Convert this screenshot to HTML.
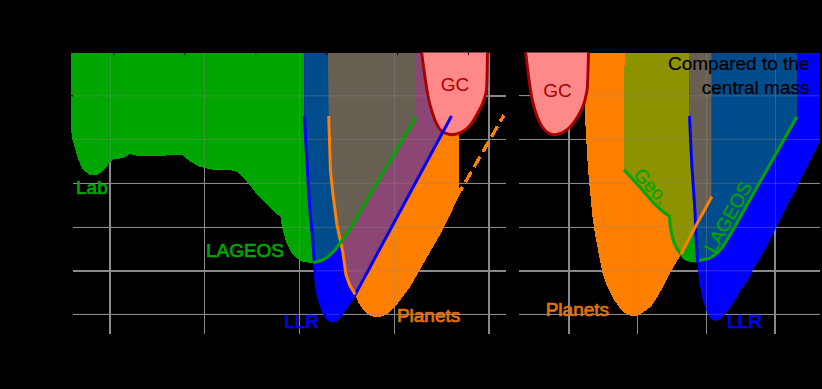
<!DOCTYPE html>
<html><head><meta charset="utf-8"><title>chart</title>
<style>html,body{margin:0;padding:0;background:#000;}body{width:822px;height:389px;overflow:hidden;font-family:"Liberation Sans",sans-serif;}</style></head>
<body>
<svg width="822" height="389" viewBox="0 0 822 389" style="display:block">
<rect width="822" height="389" fill="#000"/>
<defs>
<polygon id="GL" points="71.0,53.0 71.0,130.0 72.5,140.0 77.5,157.4 82.4,169.4 90.0,175.0 97.4,174.6 100.0,173.0 105.9,167.8 111.0,161.2 113.9,158.8 118.3,159.0 124.9,157.3 130.0,153.9 135.2,155.4 142.5,156.4 163.0,156.4 167.4,154.9 182.0,154.9 187.9,159.8 193.8,163.7 199.6,166.7 205.5,168.1 212.8,169.7 220.0,170.0 234.6,170.6 238.3,172.4 249.5,184.8 257.3,195.0 277.8,214.8 280.8,217.0 281.5,224.3 283.5,233.0 286.6,243.3 291.0,252.1 296.5,258.2 302.1,261.5 308.7,262.6 313.1,262.6 316.5,261.9 322.0,260.4 327.5,257.1 334.2,251.0 340.8,242.2 349.6,230.0 357.5,217.0 370.0,195.0 414.6,120.0 416.0,117.1 415.3,53.0"/>
<polygon id="BL" points="304.3,53.0 304.4,116.0 307.4,170.0 308.9,195.0 310.4,217.0 311.9,230.0 315.2,273.0 316.8,289.7 319.8,301.4 323.4,311.6 327.1,318.2 331.5,320.7 335.2,320.7 339.6,316.8 344.0,310.2 349.1,302.8 355.2,294.6 451.5,116.0 451.7,53.0"/>
<polygon id="PL" points="327.8,53.0 328.7,116.0 330.4,170.0 333.0,195.0 337.0,225.0 338.5,232.0 342.8,252.0 346.0,275.0 349.8,285.3 355.2,294.6 358.6,302.8 363.0,309.4 367.4,313.8 371.8,316.3 377.7,317.0 383.5,316.0 389.4,312.4 395.2,306.5 402.6,297.0 410.3,286.5 416.3,276.0 442.7,230.0 461.1,191.7 462.6,188.8 459.0,188.0 459.5,53.0"/>
<polygon id="GR" points="624.6,53.0 623.9,169.7 639.3,186.5 654.0,203.4 663.5,212.0 667.5,215.0 669.5,216.5 670.0,225.0 672.0,236.0 674.0,242.9 677.5,249.5 680.4,253.7 685.0,258.6 690.0,260.6 696.8,260.9 700.5,260.3 709.3,258.4 716.6,253.6 722.5,247.3 726.9,240.0 734.7,227.0 751.5,197.0 796.9,116.8 796.2,53.0 623.9,169.7 639.3,186.5 654.0,203.4 663.5,212.0 667.5,215.0 669.5,216.5 670.0,225.0 672.0,236.0 674.0,242.9 677.5,249.5 680.4,253.7 685.0,258.6 690.0,260.6 696.8,260.9 700.5,260.3 709.3,258.4 716.6,253.6 722.5,247.3 726.9,240.0 734.7,227.0 751.5,197.0 796.9,116.8 797.0,53.0"/>
<polygon id="BR" points="689.0,53.0 689.5,116.0 691.3,155.0 692.2,170.0 695.0,212.0 696.1,240.0 697.6,262.0 699.0,280.0 701.2,291.7 703.4,302.0 706.4,310.8 709.3,316.6 713.0,320.3 715.9,320.7 719.6,319.9 724.0,315.9 729.8,307.8 735.7,299.0 741.5,289.5 748.1,280.0 752.5,270.8 765.5,248.7 820.4,140.7 820.4,53.0 689.5,116.0 691.3,155.0 692.2,170.0 695.0,212.0 696.1,240.0 697.6,262.0 699.0,280.0 701.2,291.7 703.4,302.0 706.4,310.8 709.3,316.6 713.0,320.3 715.9,320.7 719.6,319.9 724.0,315.9 729.8,307.8 735.7,299.0 741.5,289.5 748.1,280.0 752.5,270.8 765.5,248.7 820.4,140.7 820.0,53.0"/>
<polygon id="PR" points="585.2,53.0 585.2,120.0 588.0,170.0 592.5,217.0 594.3,230.0 598.1,250.6 602.0,271.1 607.1,286.6 613.6,299.4 620.0,308.4 626.4,314.3 632.8,316.6 639.3,314.8 645.0,311.0 651.0,306.5 657.0,297.5 662.5,288.1 671.3,270.5 679.3,257.3 681.0,254.2 695.2,227.0 711.9,196.6 711.4,196.0 711.4,53.0"/>
<clipPath id="cGL"><use href="#GL"/></clipPath>
<clipPath id="cBL"><use href="#BL"/></clipPath>
<clipPath id="cPL"><use href="#PL"/></clipPath>
<clipPath id="cGR"><use href="#GR"/></clipPath>
<clipPath id="cBR"><use href="#BR"/></clipPath>
<clipPath id="cPR"><use href="#PR"/></clipPath>
</defs>
<g fill="#8A8A8A" shape-rendering="crispEdges"><rect x="109" y="53" width="2" height="281"/><rect x="204" y="53" width="1.1" height="281"/><rect x="299" y="53" width="1.1" height="281"/><rect x="394" y="53" width="1.1" height="281"/><rect x="488" y="53" width="2" height="281"/><rect x="568.1" y="53" width="1.5" height="281"/><rect x="636.9" y="53" width="1.4" height="281"/><rect x="705.8" y="53" width="1.4" height="281"/><rect x="774.2" y="53" width="1.5" height="281"/><rect x="73" y="95" width="433" height="2"/><rect x="73" y="139" width="433" height="1"/><rect x="73" y="183" width="433" height="1"/><rect x="73" y="227" width="433" height="1"/><rect x="73" y="270" width="433" height="2"/><rect x="73" y="314" width="433" height="1"/><rect x="519" y="95" width="301" height="1"/><rect x="519" y="139" width="301" height="1"/><rect x="519" y="183" width="301" height="1"/><rect x="519" y="227" width="301" height="1"/><rect x="519" y="270" width="301" height="2"/><rect x="519" y="314" width="301" height="1"/></g>
<g shape-rendering="crispEdges">
<use href="#GL" fill="#00A600"/>
<use href="#PL" fill="#FF7F00"/>
<use href="#BL" fill="#0000FF"/>
<g clip-path="url(#cBL)"><use href="#PL" fill="#8C4673"/></g>
<g clip-path="url(#cBL)"><use href="#GL" fill="#004C8C"/></g>
<g clip-path="url(#cBL)"><g clip-path="url(#cPL)"><use href="#GL" fill="#686052"/></g></g>
<use href="#GR" fill="#00A600"/>
<use href="#PR" fill="#FF7F00"/>
<use href="#BR" fill="#0000FF"/>
<g clip-path="url(#cPR)"><use href="#GR" fill="#8C9200"/></g>
<g clip-path="url(#cBR)"><use href="#PR" fill="#8C4673"/></g>
<g clip-path="url(#cBR)"><use href="#GR" fill="#004C8C"/></g>
<g clip-path="url(#cBR)"><g clip-path="url(#cPR)"><use href="#GR" fill="#686052"/></g></g>
</g>
<g fill="#8A8A8A" shape-rendering="crispEdges" fill-opacity="0.36"><rect x="110" y="53" width="1" height="281"/><rect x="204.05" y="53" width="1" height="281"/><rect x="299.05" y="53" width="1" height="281"/><rect x="394.05" y="53" width="1" height="281"/><rect x="488.7" y="53" width="1" height="281"/><rect x="568.4" y="53" width="1" height="281"/><rect x="637.1" y="53" width="1" height="281"/><rect x="706.0" y="53" width="1" height="281"/><rect x="774.5" y="53" width="1" height="281"/></g><g fill="#8A8A8A" fill-opacity="0.36"><rect x="73" y="95.25" width="433" height="1.1"/><rect x="519" y="95.25" width="301" height="1.1"/><rect x="73" y="138.85" width="433" height="1.1"/><rect x="519" y="138.85" width="301" height="1.1"/><rect x="73" y="182.75" width="433" height="1.1"/><rect x="519" y="182.75" width="301" height="1.1"/><rect x="73" y="226.85" width="433" height="1.1"/><rect x="519" y="226.85" width="301" height="1.1"/><rect x="73" y="270.25" width="433" height="1.1"/><rect x="519" y="270.25" width="301" height="1.1"/><rect x="73" y="313.75" width="433" height="1.1"/><rect x="519" y="313.75" width="301" height="1.1"/></g>
<clipPath id="plot"><rect x="60" y="52.6" width="770" height="290"/></clipPath><g clip-path="url(#plot)">
<path d="M421.5,51.0 C421.9,54.2 423.1,63.5 424.0,70.0 C424.9,76.5 426.1,84.7 427.0,90.0 C427.9,95.3 428.3,98.0 429.2,101.7 C430.1,105.4 431.0,108.6 432.1,112.0 C433.2,115.4 434.5,119.3 435.8,122.2 C437.1,125.1 438.6,127.8 440.2,129.6 C441.8,131.4 443.4,132.3 445.3,133.2 C447.2,134.0 449.6,134.7 451.9,134.7 C454.2,134.7 456.8,134.2 459.2,133.2 C461.6,132.2 464.3,130.6 466.5,128.8 C468.7,127.0 470.4,125.0 472.4,122.2 C474.4,119.4 476.6,115.2 478.3,112.0 C480.0,108.8 481.5,106.1 482.7,103.2 C483.9,100.3 484.9,97.4 485.6,94.4 C486.3,91.4 486.5,92.2 486.8,85.0 C487.1,77.8 487.4,56.7 487.5,51.0" fill="#FF8888" stroke="#AA0000" stroke-width="2.9"/>
<path d="M525.5,51.0 C525.9,54.5 527.2,65.5 528.0,72.0 C528.8,78.5 529.7,85.0 530.5,90.0 C531.3,95.0 531.9,98.0 532.7,101.7 C533.6,105.4 534.5,108.7 535.6,112.0 C536.7,115.3 537.9,118.7 539.3,121.5 C540.6,124.3 542.1,126.9 543.7,128.8 C545.3,130.8 547.0,132.2 548.8,133.2 C550.6,134.2 552.6,134.7 554.7,134.7 C556.8,134.7 559.0,134.2 561.3,133.2 C563.6,132.1 566.4,130.3 568.6,128.4 C570.8,126.5 572.5,124.2 574.5,121.5 C576.5,118.8 578.7,115.0 580.3,112.0 C581.9,109.0 583.0,106.1 584.0,103.2 C585.0,100.3 585.6,97.4 586.2,94.4 C586.8,91.4 587.1,92.2 587.5,85.0 C587.9,77.8 588.4,56.7 588.6,51.0" fill="#FF8888" stroke="#AA0000" stroke-width="2.9"/>
</g>
<g fill="#000"><rect x="113.5" y="52.6" width="1" height="2.6"/><rect x="184.4" y="52.6" width="1" height="2.6"/><rect x="255.3" y="52.6" width="1" height="2.6"/><rect x="326.2" y="52.6" width="1" height="2.6"/><rect x="397.1" y="52.6" width="1" height="2.6"/><rect x="468.0" y="52.6" width="1" height="2.6"/><rect x="70.5" y="95.3" width="3" height="1"/></g>
<polyline points="304.4,116.0 307.4,170.0 308.9,195.0 310.4,217.0 311.9,230.0 315.2,273.0 316.8,289.7 319.8,301.4 323.4,311.6 327.1,318.2 331.5,320.7 335.2,320.7 339.6,316.8 344.0,310.2 349.1,302.8 355.2,294.6 451.5,116.0" fill="none" stroke="#0000FF" stroke-width="3" />
<polyline points="328.7,116.0 330.4,170.0 333.0,195.0 337.0,225.0 338.5,232.0 342.8,252.0 346.0,275.0 349.8,285.3 355.2,294.6" fill="none" stroke="#FF7F00" stroke-width="3" />
<polyline points="313.1,262.6 316.5,261.9 322.0,260.4 327.5,257.1 334.2,251.0 340.8,242.2 349.6,230.0 357.5,217.0 370.0,195.0 414.6,120.0 416.0,117.1" fill="none" stroke="#00A600" stroke-width="3" />
<polyline points="503.9,115.2 461.0,189.8" fill="none" stroke="#FF7F00" stroke-width="3.4" stroke-dasharray="12 5.5" stroke-dashoffset="4.6" shape-rendering="crispEdges"/>
<polyline points="623.9,169.7 639.3,186.5 654.0,203.4 663.5,212.0 667.5,215.0 669.5,216.5 670.0,225.0 672.0,236.0 674.0,242.9 677.5,249.5 680.4,253.7 685.0,258.6 690.0,260.6 696.8,260.9 700.5,260.3 709.3,258.4 716.6,253.6 722.5,247.3 726.9,240.0 734.7,227.0 751.5,197.0 796.9,116.8" fill="none" stroke="#00A600" stroke-width="3" />
<polyline points="689.5,116.0 691.3,155.0 692.2,170.0 695.0,212.0 696.1,240.0 697.6,262.0" fill="none" stroke="#0000FF" stroke-width="3" />
<polyline points="711.9,196.6 695.2,227.0 681.0,254.2" fill="none" stroke="#FF7F00" stroke-width="3" />
<g font-family="Liberation Sans, sans-serif" font-size="19px">
<text x="76" y="194" fill="#00A600" stroke="#00A600" stroke-width="0.7" stroke-linejoin="round" >Lab</text>
<text x="205.9" y="256.7" fill="#00A600" stroke="#00A600" stroke-width="0.7" stroke-linejoin="round" >LAGEOS</text>
<text x="284.2" y="327.5" fill="#0000FF" stroke="#0000FF" stroke-width="0.7" stroke-linejoin="round" >LLR</text>
<text x="396.9" y="321.9" fill="#E27308" stroke="#E27308" stroke-width="0.7" stroke-linejoin="round" >Planets</text>
<text x="440.8" y="91.2" fill="#AA0000">GC</text>
<text x="543.2" y="96.6" fill="#AA0000">GC</text>
<text x="545.7" y="315.8" fill="#E27308" stroke="#E27308" stroke-width="0.7" stroke-linejoin="round" >Planets</text>
<text x="727" y="327.6" fill="#0000FF" stroke="#0000FF" stroke-width="0.7" stroke-linejoin="round" >LLR</text>
<text x="809.5" y="70" text-anchor="end" fill="#000" stroke="#000" stroke-width="0.2">Compared to the</text>
<text x="809.5" y="93.8" text-anchor="end" fill="#000" stroke="#000" stroke-width="0.2">central mass</text>
<text transform="translate(632.4,175.5) rotate(47)" fill="#00A600" stroke="#00A600" stroke-width="0.3">Geo.</text>
<text transform="translate(714.8,254.5) rotate(-61)" fill="#00A600" stroke="#00A600" stroke-width="0.3">LAGEOS</text>
</g>
</svg>
</body></html>
